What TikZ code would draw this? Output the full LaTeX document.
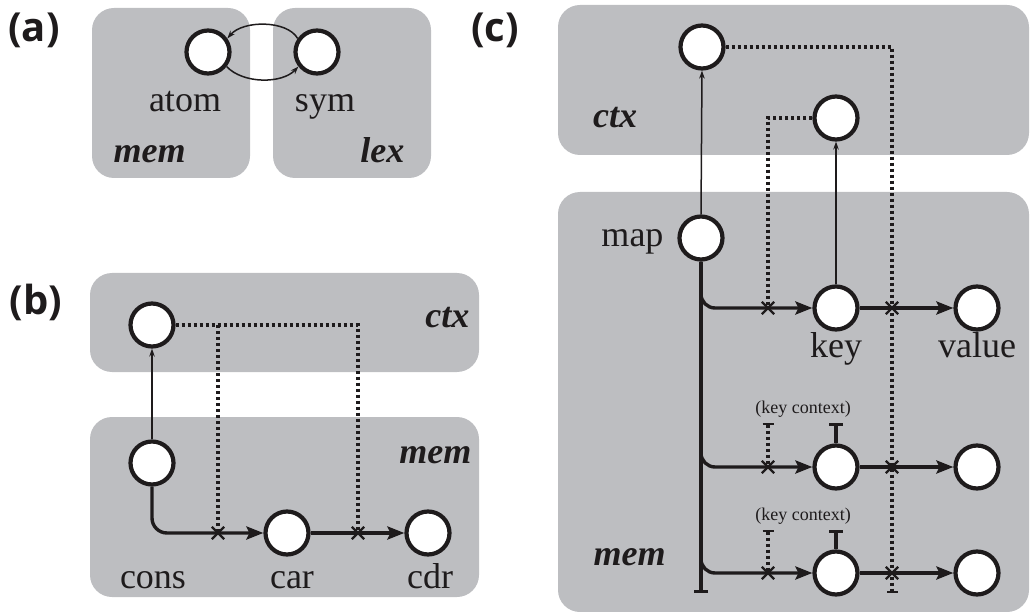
\documentclass[tikz,border=0pt]{standalone}
\usepackage{fontspec}
\setmainfont{Liberation Serif}
\newfontfamily\panelfont{Open Sans}
\usetikzlibrary{arrows.meta,shapes.misc}

\definecolor{panel}{RGB}{189,190,193}
\definecolor{ink}{RGB}{30,27,28}

\tikzset{
  region/.style={fill=panel, rounded corners=22pt},
  circ/.style={circle, draw=ink, fill=white, line width=4.2pt, minimum size=43pt, inner sep=0pt},
  lbl/.style={text=ink, font=\fontsize{36}{42}\selectfont, anchor=base},
  zone/.style={text=ink, font=\fontsize{36}{42}\selectfont\bfseries\itshape, anchor=base},
  small/.style={text=ink, font=\fontsize{18}{22}\selectfont, anchor=base},
  tag/.style={text=ink, font=\panelfont\bfseries\fontsize{40}{46}\selectfont},
  link/.style={draw=ink, line width=1.5pt, -{Stealth[length=8pt,width=5.5pt]}},
  flow/.style={draw=ink, line width=3.4pt, -{Stealth[length=17pt,width=13pt,inset=3pt]}},
  spine/.style={draw=ink, line width=3.4pt},
  dots/.style={draw=ink, line width=3.4pt, dash pattern=on 3pt off 3pt},
  xmark/.style={cross out, draw=ink, line width=2.3pt, minimum size=10pt, inner sep=0pt},
}

\begin{document}
\begin{tikzpicture}[x=1pt, y=1pt]
\path[use as bounding box] (0,0) rectangle (1031,-612);

% ---------------- (a) ----------------
\fill[region] (92,-8) rectangle (250,-178);
\fill[region] (273,-8) rectangle (431,-178);
\node[tag] (tagA) at (34,-30) {(a)};
\node[circ] (atom) at (208,-52) {};
\node[circ] (sym) at (317,-52) {};
\node[lbl] (atomL) at (185,-112) {atom};
\node[lbl] (symL) at (325,-112) {sym};
\node[zone, anchor=base west] (memA) at (110,-163) {mem};
\node[zone, anchor=base east] (lexA) at (408,-163) {lex};
\draw[link] (sym.145) .. controls (287,-20) and (243,-20) .. (atom.35);
\draw[link] (atom.-38) .. controls (243,-84) and (282,-84) .. (sym.-142);

% ---------------- (b) ----------------
\fill[region] (90,-273) rectangle (479,-372);
\fill[region] (90,-417) rectangle (479,-597);
\node[tag] (tagB) at (36,-302) {(b)};
\node[circ] (bctx) at (152,-325) {};
\node[circ] (cons) at (152,-463) {};
\node[circ] (car) at (287,-533) {};
\node[circ] (cdr) at (428,-533) {};
\node[lbl] (consL) at (153,-588) {cons};
\node[lbl] (carL) at (292,-588) {car};
\node[lbl] (cdrL) at (430,-588) {cdr};
\node[zone, anchor=base east] (ctxB) at (473,-327) {ctx};
\node[zone, anchor=base east] (memB) at (475,-463) {mem};
\coordinate (bx1) at (218,-533);
\coordinate (bx2) at (358,-533);
\draw[dots] (bctx.east) -| (bx2);
\draw[dots] (bx1 |- bctx.east) -- (bx1);
\draw[link] (cons.north) -- (bctx.south);
\draw[flow, rounded corners=15pt] (cons.south) |- (car.west);
\draw[flow] (car.east) -- (cdr.west);
\node[xmark] (bm1) at (bx1) {};
\node[xmark] (bm2) at (bx2) {};

% ---------------- (c) ----------------
\fill[region] (558,-5) rectangle (1029,-155);
\fill[region] (558,-192) rectangle (1029,-612);
\node[tag] (tagC) at (495,-30) {(c)};
\node[circ] (c1) at (702,-47) {};
\node[circ] (c2) at (836,-118) {};
\node[circ] (map) at (701,-238) {};
\node[circ] (k1) at (836,-308) {};
\node[circ] (v1) at (977,-308) {};
\node[circ] (k2) at (836,-467) {};
\node[circ] (v2) at (977,-467) {};
\node[circ] (k3) at (836,-573) {};
\node[circ] (v3) at (977,-573) {};
\node[zone] (ctxC) at (615,-128) {ctx};
\node[zone, anchor=base west] (memC) at (590,-565) {mem};
\node[lbl, anchor=base east] (mapL) at (667,-247) {map};
\node[lbl] (keyL) at (836,-357) {key};
\node[lbl] (valueL) at (977,-357) {value};
\node[small] (kc2) at (803,-413) {(key context)};
\node[small] (kc3) at (803,-520) {(key context)};

% crossing points and stub ends
\coordinate (x1a) at (768,-308);
\coordinate (x1b) at (892,-308);
\coordinate (x2a) at (768,-467);
\coordinate (x2b) at (892,-467);
\coordinate (x3a) at (768,-573);
\coordinate (x3b) at (892,-573);
\coordinate (dbot) at (892,-593);
\coordinate (mbot) at (701,-593);
\coordinate (br2) at (701,-430);
\coordinate (br3) at (701,-535);
\coordinate (d2top) at (768,-423);
\coordinate (d3top) at (768,-530);
\coordinate (k2top) at (836,-423);
\coordinate (k3top) at (836,-530);

% context links (dotted)
\draw[dots, -{Bar[width=11pt,line width=2.2pt]}] (c1.east) -| (dbot);
\draw[dots] (c2.west) -| (x1a);
\draw[dots, {Bar[width=11pt,line width=2.2pt]}-] (d2top) -- (x2a);
\draw[dots, {Bar[width=11pt,line width=2.2pt]}-] (d3top) -- (x3a);

% context pointers
\draw[link] (map.north) -- (c1.south);
\draw[link] (k1.north) -- (c2.south);

% map spine and entries
\draw[spine, -{Bar[width=14pt,line width=2.6pt]}] (map.south) -- (mbot);
\draw[flow, rounded corners=14pt] (map.south) |- (k1.west);
\draw[flow, rounded corners=14pt] (br2) |- (k2.west);
\draw[flow, rounded corners=14pt] (br3) |- (k3.west);
\draw[flow] (k1.east) -- (v1.west);
\draw[flow] (k2.east) -- (v2.west);
\draw[flow] (k3.east) -- (v3.west);
\draw[spine, -{Bar[width=14pt,line width=2.6pt]}] (k2.north) -- (k2top);
\draw[spine, -{Bar[width=14pt,line width=2.6pt]}] (k3.north) -- (k3top);

\foreach \p in {x1a,x1b,x2a,x2b,x3a,x3b}
  \node[xmark] at (\p) {};
\end{tikzpicture}
\end{document}
